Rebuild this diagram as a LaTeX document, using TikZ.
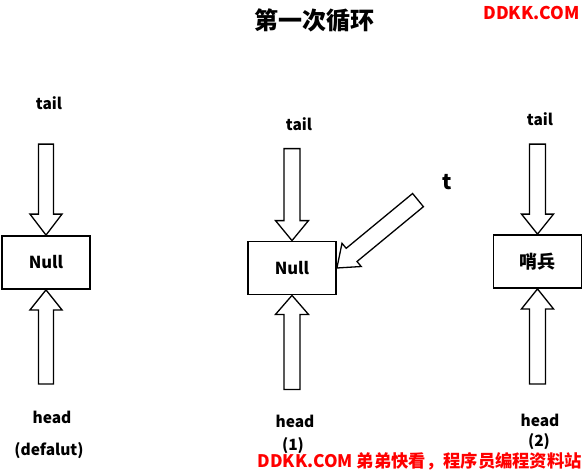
\documentclass[tikz,border=0pt]{standalone}
\usepackage{fontspec}
\setmainfont{Noto Sans CJK SC}
\tikzset{
  lbl/.style={font=\bfseries\fontsize{15.5}{18}\selectfont, inner sep=0pt},
  boxn/.style={draw, line width=1.8pt, minimum width=88pt, minimum height=53pt, inner sep=0pt, font=\bfseries\fontsize{16.5}{18}\selectfont},
  blk/.style={draw, line width=1.3pt, fill=white, line join=miter},
  red/.style={text=red, inner sep=0pt}
}
\begin{document}
\begin{tikzpicture}[x=1pt,y=-1pt]
\useasboundingbox (0,0) rectangle (584,474);
% title and watermarks
\node[font=\bfseries\fontsize{24}{26}\selectfont, inner sep=0pt] (title) at (314,20) {第一次循环};
\node[red, anchor=east, font=\bfseries\fontsize{17.5}{20}\selectfont] (wm1) at (580,13) {DDKK.COM};
\node[red, anchor=east, font=\bfseries\fontsize{17.3}{20}\selectfont] (wm2) at (582,461) {DDKK.COM 弟弟快看，程序员编程资料站};
% boxes
\node[boxn] (b1) at (46,262.5) {Null};
\node[boxn] (b2) at (292,268) {Null};
\node[boxn, font=\bfseries\fontsize{18}{20}\selectfont] (b3) at (537.5,261.5) {哨兵};
% labels
\node[lbl] (tail1) at (49,103) {tail};
\node[lbl] (tail2) at (299,124) {tail};
\node[lbl] (tail3) at (540,119) {tail};
\node[lbl] (head1) at (52,417) {head};
\node[lbl] (head2) at (295,421) {head};
\node[lbl] (head3) at (540,420) {head};
\node[lbl] (def) at (49,451) {(defalut)};
\node[lbl] (one) at (293,446) {(1)};
\node[lbl] (two) at (539,442) {(2)};
\node[font=\bfseries\fontsize{21}{23}\selectfont, inner sep=0pt] (t) at (447,182) {t};
% block arrows: tail (down)
\draw[blk] (b1.north) -- ++(-16,-21) -- ++(8.5,0) -- ++(0,-70) -- ++(15,0) -- ++(0,70) -- ++(8.5,0) -- cycle;
\draw[blk] (b2.north) -- ++(-16.5,-20) -- ++(8.5,0) -- ++(0,-72) -- ++(16,0) -- ++(0,72) -- ++(8.5,0) -- cycle;
\draw[blk] (b3.north) -- ++(-16,-20) -- ++(8,0) -- ++(0,-70) -- ++(16,0) -- ++(0,70) -- ++(8,0) -- cycle;
% head (up)
\draw[blk] (b1.south) -- ++(-16,20) -- ++(8.5,0) -- ++(0,74) -- ++(15,0) -- ++(0,-74) -- ++(8.5,0) -- cycle;
\draw[blk] (b2.south) -- ++(-16.5,19) -- ++(8.5,0) -- ++(0,75) -- ++(16,0) -- ++(0,-75) -- ++(8.5,0) -- cycle;
\draw[blk] (b3.south) -- ++(-16,20) -- ++(8,0) -- ++(0,75) -- ++(16,0) -- ++(0,-75) -- ++(8,0) -- cycle;
% diagonal t arrow
\coordinate (tip) at (b2.east);
\draw[blk] (tip) -- (342.0,243.3) -- (346.2,248.3) -- (412.6,193.5) -- (423.4,206.7) -- (357.0,261.5) -- (361.2,266.5) -- cycle;
\end{tikzpicture}
\end{document}
